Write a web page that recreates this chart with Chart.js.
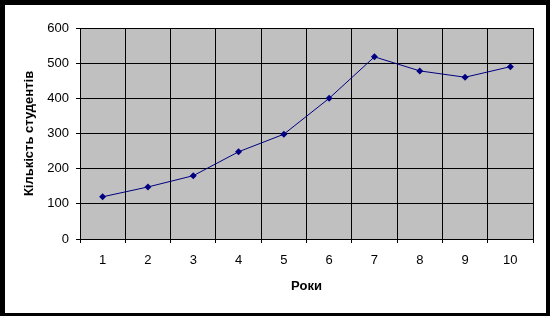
<!DOCTYPE html>
<html>
<head>
<meta charset="utf-8">
<script src="https://cdn.jsdelivr.net/npm/chart.js@4"></script>
<style>
  html, body { margin: 0; padding: 0; background: #000; }
  #wrap { position: absolute; left: 5px; top: 5px; width: 541px; height: 308px; background: #fff; }
</style>
</head>
<body>
<div id="wrap"><canvas id="grafik" width="541" height="308"></canvas></div>
<script>
const roky = ["1", "2", "3", "4", "5", "6", "7", "8", "9", "10"];
const studenty = [120, 148, 180, 248, 298, 400, 518, 478, 460, 490];
const yTicks = [0, 100, 200, 300, 400, 500, 600];

// сірий фон області графіка
const fonObl = {
    id: "fonObl",
    beforeDraw(chart) {
        const { ctx, chartArea: a } = chart;
        ctx.save();
        ctx.fillStyle = "#C0C0C0";
        ctx.fillRect(a.left, a.top, a.right - a.left, a.bottom - a.top);
        ctx.restore();
    },
};

const ctx = document.getElementById("grafik").getContext("2d");
new Chart(ctx, {
    type: "line",
    data: {
        labels: roky,
        datasets: [
            {
                data: studenty,
                borderColor: "#000080",
                backgroundColor: "#000080",
                borderWidth: 1,
                pointStyle: "rectRot",
                pointRadius: 3.5,
                pointBorderWidth: 0,
                tension: 0,
            },
        ],
    },
    options: {
        responsive: false,
        animation: false,
        events: [],
        layout: { padding: { top: 23, right: 13, left: 0, bottom: 0 } },
        plugins: { legend: { display: false }, tooltip: { enabled: false } },
        scales: {
            x: {
                offset: true,
                grid: { offset: true, color: "#000", lineWidth: 1, tickLength: 4 },
                border: { color: "#000", width: 1 },
                ticks: { color: "#000", padding: 10, font: { family: "Liberation Sans", size: 13 } },
                title: {
                    display: true,
                    text: "Роки",
                    color: "#000",
                    font: { family: "Liberation Sans", size: 13, weight: "bold" },
                    padding: { top: 0, bottom: 19 },
                },
                afterFit(s) { s.height = 74; },
            },
            y: {
                min: 0,
                max: 600,
                afterBuildTicks(s) { s.ticks = yTicks.map(v => ({ value: v })); },
                grid: { color: "#000", lineWidth: 1, tickLength: 4 },
                border: { color: "#000", width: 1 },
                ticks: { color: "#000", padding: 7, font: { family: "Liberation Sans", size: 13 } },
                title: {
                    display: true,
                    text: "Кількість студентів",
                    color: "#000",
                    font: { family: "Liberation Sans", size: 13, weight: "bold" },
                    padding: { top: 17, bottom: 0 },
                },
                afterFit(s) { s.width = 75; },
            },
        },
    },
    plugins: [fonObl],
});
</script>
</body>
</html>
